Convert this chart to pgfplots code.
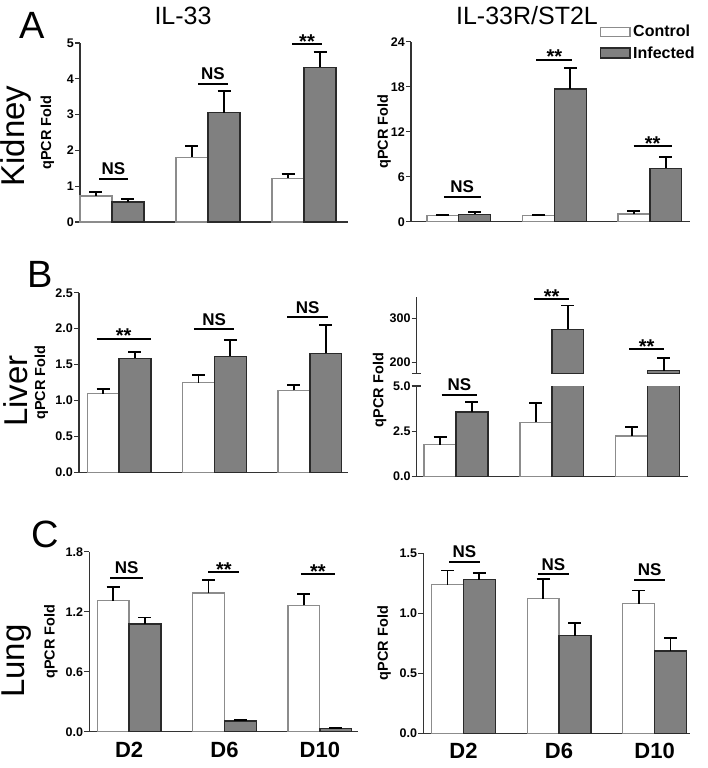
\documentclass[border=0pt]{standalone}
\usepackage{fontspec}
\setmainfont{Liberation Sans}
\usepackage{pgfplots}
\pgfplotsset{compat=1.18}
\definecolor{infc}{HTML}{808080}
\definecolor{ctlb}{HTML}{8C8C8C}
\definecolor{infb}{HTML}{2A2A2A}
\definecolor{axc}{HTML}{333333}
\newcommand\fs[1]{\fontsize{#1}{#1}\selectfont}
\newcommand\ns[3]{\draw[line width=2pt] (axis cs:#1,#3) -- (axis cs:#2,#3) node[midway, anchor=base, yshift=4.3pt, font=\bfseries\fs{17}, inner sep=0pt] {NS};}
\newcommand\st[3]{\draw[line width=2pt] (axis cs:#1,#3) -- (axis cs:#2,#3) node[midway, anchor=base, yshift=-4.3pt, font=\bfseries\fs{20}, inner sep=0pt] {**};}
\pgfplotsset{
 panel/.style={
   scale only axis, anchor=south west,
   axis x line*=bottom, axis y line*=left,
   axis line style={line width=1.3pt, axc},
   tick align=outside, major tick length=5pt,
   ytick style={line width=1.3pt, axc},
   xtick=\empty,
   yticklabel style={font=\bfseries\fs{12.5}, inner sep=1pt},
   /pgf/number format/assume math mode=true,
   ymin=0, clip=false,
   ybar, bar width=0.333,
 },
 onedec/.style={yticklabel style={/pgf/number format/.cd, fixed, fixed zerofill, precision=1}},
 days/.style={xtick={0,1,2}, xticklabels={D2,D6,D10}, xtick style={draw=none},
   xticklabel style={font=\bfseries\fs{22}, inner sep=0pt, yshift=-5pt}},
 ctl/.style={bar shift=0pt, fill=white, draw=ctlb, line width=1.3pt,
   error bars/y dir=plus, error bars/y explicit,
   error bars/error mark=-,
   error bars/error bar style={line width=1.8pt, black, solid},
   error bars/error mark options={line width=1.8pt, black, mark size=6.5pt, rotate=90}},
 inf/.style={bar shift=0pt, fill=infc, draw=infb, line width=1.3pt,
   error bars/y dir=plus, error bars/y explicit,
   error bars/error mark=-,
   error bars/error bar style={line width=1.8pt, black, solid},
   error bars/error mark options={line width=1.8pt, black, mark size=6.5pt, rotate=90}},
}
\begin{document}
\begin{tikzpicture}
\path[use as bounding box] (0,0) rectangle (708pt,-768pt);
% ---------------- A left: Kidney IL-33
\begin{axis}[panel, at={(80pt,-222pt)}, width=268pt, height=179pt,
  xmin=-0.333, xmax=2.458, ymax=5, ytick={0,1,2,3,4,5}]
\addplot[ctl] coordinates {(-0.1667,0.73) +- (0,0.10) (0.8333,1.81) +- (0,0.32) (1.8333,1.22) +- (0,0.13)};
\addplot[inf] coordinates {(0.1667,0.56) +- (0,0.08) (1.1667,3.05) +- (0,0.62) (2.1667,4.32) +- (0,0.42)};
\ns{-0.135}{0.167}{1.2}
\ns{0.896}{1.208}{3.85}
\st{1.875}{2.1875}{4.98}
\end{axis}
% ---------------- A right: Kidney IL-33R/ST2L
\begin{axis}[panel, at={(411pt,-221.7pt)}, width=279pt, height=180pt,
  xmin=-0.5, xmax=2.42, ymax=24, ytick={0,6,12,18,24}]
\addplot[ctl] coordinates {(-0.1667,0.80) +- (0,0.13) (0.8333,0.84) +- (0,0.09) (1.8333,1.02) +- (0,0.36)};
\addplot[inf] coordinates {(0.1667,0.98) +- (0,0.31) (1.1667,17.7) +- (0,2.8) (2.1667,7.1) +- (0,1.57)};
\ns{-0.157}{0.23}{3.33}
\st{0.81}{1.19}{21.6}
\st{1.83}{2.23}{10.1}
\end{axis}
% ---------------- B left: Liver IL-33
\begin{axis}[panel, onedec, at={(79pt,-472.3pt)}, width=269pt, height=179.6pt,
  xmin=-0.42, xmax=2.40, ymax=2.5, ytick={0,0.5,1,1.5,2,2.5}]
\addplot[ctl] coordinates {(-0.1667,1.095) +- (0,0.07) (0.8333,1.248) +- (0,0.11) (1.8333,1.141) +- (0,0.074)};
\addplot[inf] coordinates {(0.1667,1.586) +- (0,0.084) (1.1667,1.614) +- (0,0.232) (2.1667,1.656) +- (0,0.394)};
\st{-0.234}{0.33}{1.86}
\ns{0.783}{1.21}{1.99}
\ns{1.762}{2.19}{2.157}
\end{axis}
% ---------------- B right lower
\begin{axis}[panel, onedec, at={(416.7pt,-476.3pt)}, width=271.3pt, height=90.3pt,
  xmin=-0.41, xmax=2.42, ymax=5, ytick={0,2.5,5}, clip=true, clip mode=individual]
\addplot[ctl] coordinates {(-0.1667,1.75) +- (0,0.41) (0.8333,2.99) +- (0,1.09) (1.8333,2.23) +- (0,0.52)};
\addplot[inf] coordinates {(0.1667,3.56) +- (0,0.55) (1.1667,275) +- (0,54) (2.1667,181) +- (0,29.6)};
\ns{-0.15}{0.22}{4.52}
\end{axis}
% ---------------- B right upper
\begin{axis}[panel, at={(416.7pt,-373.3pt)}, width=271.3pt, height=76.6pt,
  axis x line=none, xmin=-0.41, xmax=2.42, ymin=175, ymax=349, ytick={200,300},
  clip=true, clip mode=individual]
\addplot[inf] coordinates {(1.1667,275) +- (0,54) (2.1667,181) +- (0,29.6)};
\st{0.815}{1.18}{343}
\st{1.805}{2.17}{229.5}
\end{axis}
\draw[line width=1.3pt, axc] (412pt,-373.3pt) -- (421pt,-373.3pt);
\draw[line width=1.3pt, axc] (416.7pt,-386pt) -- (421pt,-386pt);
% ---------------- C left: Lung IL-33
\begin{axis}[panel, days, onedec, at={(89.3pt,-731.7pt)}, width=268.7pt, height=180pt,
  xmin=-0.417, xmax=2.40, ymax=1.8, ytick={0,0.6,1.2,1.8}]
\addplot[ctl] coordinates {(-0.1667,1.31) +- (0,0.14) (0.8333,1.387) +- (0,0.13) (1.8333,1.263) +- (0,0.117)};
\addplot[inf] coordinates {(0.1667,1.077) +- (0,0.066) (1.1667,0.107) +- (0,0.013) (2.1667,0.03) +- (0,0.01)};
\ns{-0.2}{0.15}{1.54}
\st{0.832}{1.157}{1.6}
\st{1.8}{2.16}{1.573}
\end{axis}
% ---------------- C right: Lung IL-33R/ST2L
\begin{axis}[panel, days, onedec, at={(423.3pt,-733.3pt)}, width=266.7pt, height=180pt,
  xmin=-0.42, xmax=2.37, ymax=1.5, ytick={0,0.5,1,1.5}]
\addplot[ctl] coordinates {(-0.1667,1.239) +- (0,0.117) (0.8333,1.122) +- (0,0.161) (1.8333,1.08) +- (0,0.11)};
\addplot[inf] coordinates {(0.1667,1.28) +- (0,0.053) (1.1667,0.814) +- (0,0.108) (2.1667,0.686) +- (0,0.111)};
\ns{-0.15}{0.17}{1.428}
\ns{0.78}{1.1}{1.325}
\ns{1.785}{2.11}{1.278}
\end{axis}
% ---------------- texts
\node[anchor=base, font=\fs{25}, inner sep=0pt] at (183pt,-25pt) {IL-33};
\node[anchor=base, font=\fs{25}, inner sep=0pt] at (527pt,-25pt) {IL-33R/ST2L};
\node[anchor=base west, font=\fs{38}, inner sep=0pt] at (19pt,-39pt) {A};
\node[anchor=base west, font=\fs{38}, inner sep=0pt] at (27pt,-287pt) {B};
\node[anchor=base west, font=\fs{38}, inner sep=0pt] at (31pt,-547pt) {C};
\node[rotate=90, font=\fs{33}, inner sep=0pt] at (16pt,-136pt) {Kidney};
\node[rotate=90, font=\fs{33}, inner sep=0pt] at (16pt,-391pt) {Liver};
\node[rotate=90, font=\fs{33}, inner sep=0pt] at (17pt,-661pt) {Lung};
\node[rotate=90, font=\bfseries\fs{14.5}, inner sep=0pt] at (47.5pt,-132.5pt) {qPCR Fold};
\node[rotate=90, font=\bfseries\fs{14.5}, inner sep=0pt] at (384pt,-131.7pt) {qPCR Fold};
\node[rotate=90, font=\bfseries\fs{14.5}, inner sep=0pt] at (41.3pt,-382.5pt) {qPCR Fold};
\node[rotate=90, font=\bfseries\fs{14.5}, inner sep=0pt] at (379.5pt,-390pt) {qPCR Fold};
\node[rotate=90, font=\bfseries\fs{14.5}, inner sep=0pt] at (51pt,-641.7pt) {qPCR Fold};
\node[rotate=90, font=\bfseries\fs{14.5}, inner sep=0pt] at (384pt,-643pt) {qPCR Fold};
% legend
\draw[fill=white, draw=ctlb, line width=1.3pt] (600.7pt,-27.7pt) rectangle (630pt,-36.7pt);
\draw[fill=infc, draw=infb, line width=1.3pt] (600.7pt,-48pt) rectangle (630pt,-58pt);
\node[anchor=base west, font=\bfseries\fs{16}, inner sep=0pt] at (633pt,-36.7pt) {Control};
\node[anchor=base west, font=\bfseries\fs{16}, inner sep=0pt] at (633pt,-58.3pt) {Infected};
\end{tikzpicture}
\end{document}
